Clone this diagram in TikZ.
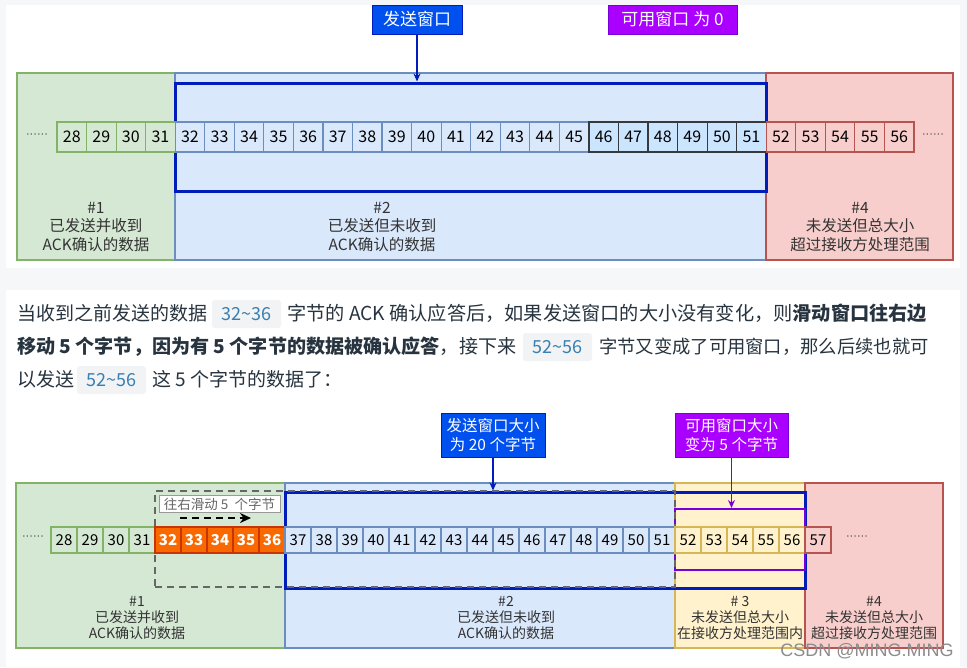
\documentclass[tikz,border=0pt]{standalone}
\usepackage{fontspec}
\setmainfont{Noto Sans CJK SC}
\newfontfamily\lsans{Liberation Sans}
\usetikzlibrary{arrows.meta}
\definecolor{gfill}{HTML}{D5E8D4}\definecolor{gdraw}{HTML}{82B366}
\definecolor{bfill}{HTML}{DAE8FC}\definecolor{bdraw}{HTML}{6C8EBF}
\definecolor{cfill}{HTML}{CCE5FF}\definecolor{cdraw}{HTML}{36393D}
\definecolor{rfill}{HTML}{F8CECC}\definecolor{rdraw}{HTML}{B85450}
\definecolor{yfill}{HTML}{FFF2CC}\definecolor{ydraw}{HTML}{D6B656}
\definecolor{ofill}{HTML}{FA6800}\definecolor{odraw}{HTML}{C73500}
\definecolor{win}{HTML}{001DBC}
\definecolor{lblue}{HTML}{0050EF}
\definecolor{purp}{HTML}{AA00FF}\definecolor{purpd}{HTML}{7A00D9}
\definecolor{pagebg}{HTML}{F6F7F8}
\definecolor{txt}{HTML}{27343F}
\definecolor{codebg}{HTML}{F1F3F4}
\definecolor{codefg}{HTML}{3A7FB0}
\definecolor{lab}{HTML}{333333}
\definecolor{dgrey}{HTML}{666666}
\tikzset{
  tcell/.style={minimum width=29.55, minimum height=30, inner sep=0, line width=1.2, font=\fontsize{16}{16}\selectfont},
  bcell/.style={minimum width=26, minimum height=26, inner sep=0, line width=1.2, font=\fontsize{15}{15}\selectfont},
  region/.style={line width=1.5},
  lblA/.style={align=center, text=lab, font=\fontsize{15.5}{18.5}\selectfont, inner sep=0},
  lblB/.style={align=center, text=lab, font=\fontsize{14}{16}\selectfont, inner sep=0},
  tagbox/.style={text=white, inner sep=0, line width=1},
  para/.style={anchor=base west, inner sep=0, text=txt, font=\fontsize{19}{19}\selectfont},
  codebox/.style={fill=codebg, rounded corners=3, minimum width=69, minimum height=28, inner sep=0, text=codefg, font=\fontsize{18}{18}\selectfont},
  dots/.style={font=\lsans\fontsize{11}{11}\selectfont, text=black!80, inner sep=0},
}
\begin{document}
\begin{tikzpicture}[x=1pt,y=-1pt]
\useasboundingbox (0,0) rectangle (967,667);
\fill[pagebg] (0,0) rectangle (967,667);
\fill[white] (6,5) rectangle (960,268);
\fill[white] (6,290) rectangle (960,667);

% ---------------- top diagram ----------------
\filldraw[region, fill=gfill, draw=gdraw] (17,73) rectangle (175,260);
\filldraw[region, fill=bfill, draw=bdraw] (175,73) rectangle (766,260);
\filldraw[region, fill=rfill, draw=rdraw] (766,73) rectangle (953,260);
\node[draw=win, line width=3, minimum width=591, minimum height=108, inner sep=0] (W1) at (470.5,137) {};
\foreach \i in {28,...,31}
  \node[tcell, fill=gfill, draw=gdraw] (t\i) at ({57+(\i-28)*29.55+14.775},137) {\i};
\foreach \i in {32,...,45}
  \node[tcell, fill=bfill, draw=bdraw] (t\i) at ({57+(\i-28)*29.55+14.775},137) {\i};
\foreach \i in {46,...,51}
  \node[tcell, fill=cfill, draw=cdraw] (t\i) at ({57+(\i-28)*29.55+14.775},137) {\i};
\foreach \i in {52,...,56}
  \node[tcell, fill=rfill, draw=rdraw] (t\i) at ({57+(\i-28)*29.55+14.775},137) {\i};
\node[dots] (tdl) at (37,136) {······};
\node[dots] (tdr) at (933,136) {······};
\node[lblA] (tl1) at (96,227) {\#1\\已发送并收到\\ACK确认的数据};
\node[lblA] (tl2) at (382,227) {\#2\\已发送但未收到\\ACK确认的数据};
\node[lblA] (tl4) at (860,227) {\#4\\未发送但总大小\\超过接收方处理范围};
\node[tagbox, fill=lblue, draw=win, minimum width=90, minimum height=29, font=\fontsize{17}{17}\selectfont] (bw) at (417,19.5) {发送窗口};
\node[tagbox, fill=purp, draw=purpd, minimum width=129, minimum height=29, font=\fontsize{17}{17}\selectfont] (pw) at (672.5,19.5) {可用窗口 为 0};
\draw[win, line width=1.5, -{Stealth[length=8,width=7]}] (bw.south) -- (bw.south |- W1.north);

% ---------------- paragraph ----------------
\node[para] (p1a) at (17,320) {当收到之前发送的数据};
\node[codebox] (c1) at (246.5,314) {32\textasciitilde36};
\node[para, font=\fontsize{19.2}{19.2}\selectfont] (p1b) at (287,320) {字节的 ACK 确认应答后，如果发送窗口的大小没有变化，则\textbf{滑动窗口往右边}};
\node[para, font=\fontsize{19.1}{19.1}\selectfont] (p2a) at (17,353) {\textbf{移动 5 个字节，因为有 5 个字节的数据被确认应答}，接下来};
\node[codebox] (c2) at (557.5,347) {52\textasciitilde56};
\node[para, font=\fontsize{18.3}{18.3}\selectfont] (p2b) at (599,353) {字节又变成了可用窗口，那么后续也就可};
\node[para] (p3a) at (17,386) {以发送};
\node[codebox] (c3) at (111.5,380) {52\textasciitilde56};
\node[para] (p3b) at (152,386) {这 5 个字节的数据了：};

% ---------------- bottom diagram ----------------
\filldraw[region, fill=gfill, draw=gdraw] (16,483) rectangle (285,648);
\filldraw[region, fill=bfill, draw=bdraw] (285,483) rectangle (675,648);
\filldraw[region, fill=yfill, draw=ydraw] (675,483) rectangle (805,648);
\filldraw[region, fill=rfill, draw=rdraw] (805,483) rectangle (943,648);
\node[draw=win, line width=3, minimum width=520, minimum height=96, inner sep=0] (W2) at (545,540) {};
\node[draw=purpd, line width=2, minimum width=130, minimum height=61, inner sep=0] (P2) at (740,539.5) {};
\node[draw=dgrey, line width=2.5, dash pattern=on 7 off 5, minimum width=520, minimum height=96, inner sep=0] (G2) at (415,539) {};
\foreach \i in {28,...,31}
  \node[bcell, fill=gfill, draw=gdraw] (b\i) at ({51+(\i-28)*26+13},540) {\i};
\foreach \i in {32,...,36}
  \node[bcell, fill=ofill, draw=odraw, text=white, font=\bfseries\fontsize{15}{15}\selectfont] (b\i) at ({51+(\i-28)*26+13},540) {\i};
\foreach \i in {37,...,51}
  \node[bcell, fill=bfill, draw=bdraw] (b\i) at ({51+(\i-28)*26+13},540) {\i};
\foreach \i in {52,...,56}
  \node[bcell, fill=yfill, draw=ydraw] (b\i) at ({51+(\i-28)*26+13},540) {\i};
\node[bcell, fill=rfill, draw=rdraw] (b57) at ({51+29*26+13},540) {57};
\node[dots] (bdl) at (33,538) {······};
\node[dots] (bdr) at (857,538) {······};
\node[fill=white, draw=black!40, line width=1, text=dgrey, inner sep=0, minimum width=121, minimum height=17, font=\fontsize{13.5}{13.5}\selectfont] (sl) at (219.5,504) {往右滑动 5\ \ 个字节};
\coordinate (sa) at (180,518);
\coordinate (sb) at (251,518);
\draw[black, line width=2.5, dash pattern=on 7 off 5, -{Stealth[length=11,width=10]}] (sa) -- (sb);
\node[tagbox, fill=lblue, draw=win, align=center, minimum width=104, minimum height=44, font=\fontsize{15.5}{19}\selectfont] (bw2) at (493,435) {发送窗口大小\\为 20 个字节};
\draw[win, line width=1.5, -{Stealth[length=8,width=7]}] (bw2.south) -- (bw2.south |- W2.north);
\node[tagbox, fill=purp, draw=purpd, align=center, minimum width=113, minimum height=44, font=\fontsize{15.5}{19}\selectfont] (pw2) at (731.5,435) {可用窗口大小\\变为 5 个字节};
\draw[purpd, line width=1.5, -{Stealth[length=8,width=7]}] (pw2.south) -- (pw2.south |- P2.north);
\node[lblB] (bl1) at (137,618) {\#1\\已发送并收到\\ACK确认的数据};
\node[lblB] (bl2) at (506,618) {\#2\\已发送但未收到\\ACK确认的数据};
\node[lblB] (bl3) at (740,618) {\# 3\\未发送但总大小\\在接收方处理范围内};
\node[lblB] (bl4) at (874,618) {\#4\\未发送但总大小\\超过接收方处理范围};
\node[font=\lsans\fontsize{18}{18}\selectfont, text=black!45, inner sep=0] (wm) at (867,651) {CSDN @MING.MING};
\end{tikzpicture}
\end{document}
